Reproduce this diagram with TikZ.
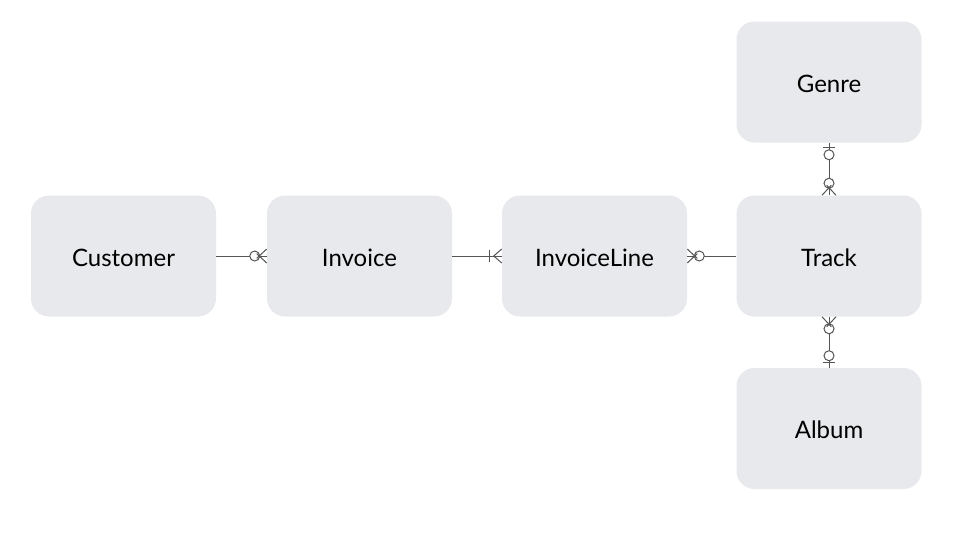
\documentclass[tikz,border=0pt]{standalone}
\usepackage{fontspec}
\setmainfont{Lato}
\usetikzlibrary{calc}
\definecolor{boxfill}{HTML}{E8E9EC}
\definecolor{linec}{HTML}{555555}
\tikzset{
  entity/.style={rectangle, rounded corners=13.5pt, fill=boxfill, draw=none,
    minimum width=138.75pt, minimum height=90.75pt, inner sep=0pt,
    text height=15pt, text depth=0pt,
    font=\fontsize{18}{21}\selectfont, text=black},
  rel/.style={draw=linec, line width=0.75pt},
}
\newcommand{\zeromany}[2]{%
  \begin{scope}[shift={(#1)}, rotate=#2]
    \draw[rel, fill=white] (9pt,0) circle (3.75pt);
    \draw[rel] (0,5.25pt) -- (7.5pt,-1.75pt);
    \draw[rel] (0,-5.25pt) -- (7.5pt,1.75pt);
  \end{scope}}
\newcommand{\onemany}[2]{%
  \begin{scope}[shift={(#1)}, rotate=#2]
    \draw[rel] (0,5.25pt) -- (6pt,0) -- (0,-5.25pt);
    \draw[rel] (9pt,4.5pt) -- (9pt,-4.5pt);
  \end{scope}}
\newcommand{\zeroone}[2]{%
  \begin{scope}[shift={(#1)}, rotate=#2]
    \draw[rel] (3.75pt,4.5pt) -- (3.75pt,-4.5pt);
    \draw[rel, fill=white] (9pt,0) circle (3.75pt);
  \end{scope}}
\begin{document}
\begin{tikzpicture}[x=0.75pt, y=-0.75pt]
\useasboundingbox (0,0) rectangle (960,540);
\node[entity] (customer) at (123.5,256) {Customer};
\node[entity] (invoice) at (359.5,256) {Invoice};
\node[entity] (invoiceline) at (594.5,256) {InvoiceLine};
\node[entity] (track) at (829,256) {Track};
\node[entity] (genre) at (829,82) {Genre};
\node[entity] (album) at (829,428.5) {Album};
\draw[rel] (customer.east) -- (invoice.west);
\draw[rel] (invoice.east) -- (invoiceline.west);
\draw[rel] (invoiceline.east) -- (track.west);
\draw[rel] (genre.south) -- (track.north);
\draw[rel] (track.south) -- (album.north);
\zeromany{invoice.west}{180}
\onemany{invoiceline.west}{180}
\zeromany{invoiceline.east}{0}
\zeroone{genre.south}{270}
\zeromany{track.north}{90}
\zeromany{track.south}{270}
\zeroone{album.north}{90}
\end{tikzpicture}
\end{document}
